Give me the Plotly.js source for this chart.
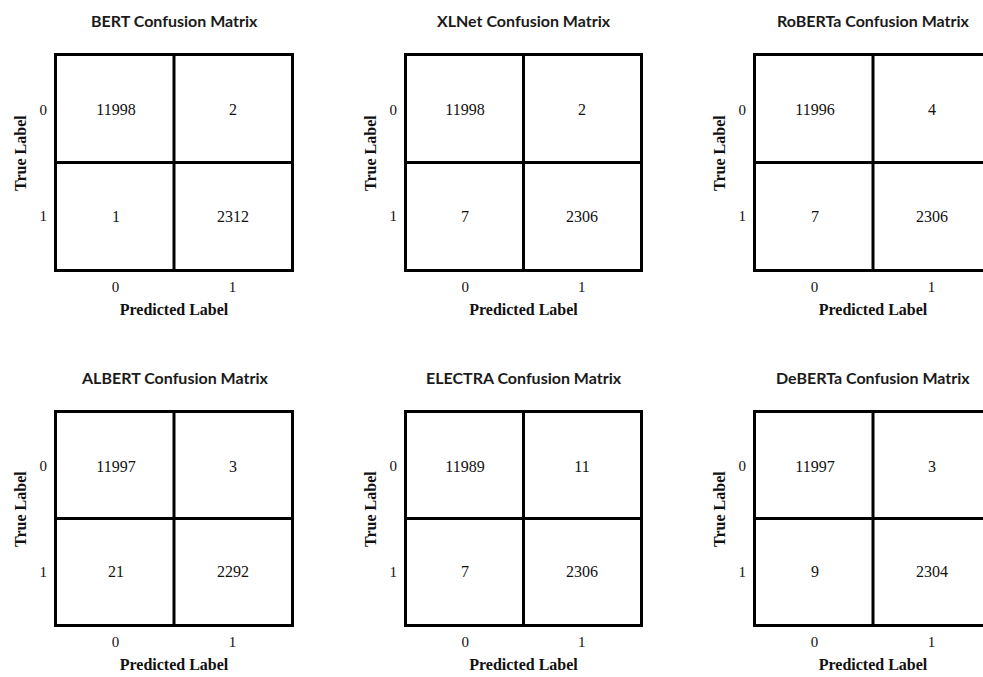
<!DOCTYPE html>
<html>
<head>
<meta charset="utf-8">
<script src="https://cdn.plot.ly/plotly-3.0.1.min.js"></script>
<style>
html,body{margin:0;padding:0;overflow:hidden;background:#fff;width:983px;height:677px;}
#chart{width:1000px;height:677px;}
</style>
</head>
<body>
<div id="chart"></div>
<script>
// Data
const models = ["BERT", "XLNet", "RoBERTa", "ALBERT", "ELECTRA", "DeBERTa"];
const predictedLabels = ["0", "1"];
const trueLabels = ["0", "1"];
const bert    = [[11998, 2], [1, 2312]];
const xlnet   = [[11998, 2], [7, 2306]];
const roberta = [[11996, 4], [7, 2306]];
const albert  = [[11997, 3], [21, 2292]];
const electra = [[11989, 11], [7, 2306]];
const deberta = [[11997, 3], [9, 2304]];
const matrices = [bert, xlnet, roberta, albert, electra, deberta];

// Layout geometry (paper width 1000, height 677); domains inside the 3px frame
const W = 1000, H = 677;
const colPx = [[57, 291], [407, 640], [756, 990]];
const rowPx = [[56, 269], [413, 624]];
const titleY = [21, 377];
const yTitleY = [153, 509];
const yTitleOffset = 37; // px left of frame

const serif = "Liberation Serif, Times New Roman, serif";
const traces = [];
const layout = {
  width: W, height: H,
  margin: {l: 0, r: 0, t: 0, b: 0},
  paper_bgcolor: "white", plot_bgcolor: "white",
  showlegend: false,
  annotations: [], shapes: []
};

matrices.forEach((m, i) => {
  const r = Math.floor(i / 3), c = i % 3;
  const n = i + 1;
  const xa = n === 1 ? "x" : "x" + n;
  const ya = n === 1 ? "y" : "y" + n;
  const xk = n === 1 ? "xaxis" : "xaxis" + n;
  const yk = n === 1 ? "yaxis" : "yaxis" + n;
  traces.push({
    type: "heatmap",
    x: predictedLabels, y: trueLabels, z: m,
    xaxis: xa, yaxis: ya,
    colorscale: [[0, "white"], [1, "white"]],
    showscale: false,
    texttemplate: "%{z:d}",
    textfont: {family: serif, size: 16, color: "#111"},
    hoverinfo: "skip"
  });
  const axCommon = {
    type: "category",
    showline: true, mirror: true, linecolor: "black", linewidth: 3,
    showgrid: false, zeroline: false,
    ticks: "outside", tickcolor: "rgba(0,0,0,0)",
    tickfont: {family: serif, size: 15, color: "#111"},
    fixedrange: true
  };
  layout[xk] = Object.assign({}, axCommon, {
    domain: [colPx[c][0] / W, colPx[c][1] / W],
    anchor: ya, ticklen: 2,
    title: {text: "<b>Predicted Label</b>", font: {family: serif, size: 16, color: "#111"}, standoff: 10}
  });
  layout[yk] = Object.assign({}, axCommon, {
    domain: [1 - rowPx[r][1] / H, 1 - rowPx[r][0] / H],
    anchor: xa, ticklen: 4,
    autorange: "reversed"
  });
  // internal dividing lines
  layout.shapes.push({type: "line", xref: xa, yref: ya + " domain", x0: 0.5, x1: 0.5, y0: 0, y1: 1, line: {color: "black", width: 3}});
  layout.shapes.push({type: "line", xref: xa + " domain", yref: ya, x0: 0, x1: 1, y0: 0.5, y1: 0.5, line: {color: "black", width: 3}});
  // y-axis title
  layout.annotations.push({
    text: "<b>True Label</b>",
    xref: "paper", yref: "paper",
    x: (colPx[c][0] - yTitleOffset) / W, y: 1 - yTitleY[r] / H,
    xanchor: "center", yanchor: "middle", textangle: -90,
    showarrow: false,
    font: {family: serif, size: 16, color: "#111"}
  });
  // subplot title
  layout.annotations.push({
    text: "<b>" + models[i] + " Confusion Matrix</b>",
    xref: "paper", yref: "paper",
    x: (colPx[c][0] + colPx[c][1]) / 2 / W,
    y: 1 - titleY[r] / H,
    xanchor: "center", yanchor: "middle",
    showarrow: false,
    font: {family: "Lato, Open Sans, sans-serif", size: 16, color: "#1a1a1a"}
  });
});

Plotly.newPlot("chart", traces, layout, {displayModeBar: false, staticPlot: true});
</script>
</body>
</html>
